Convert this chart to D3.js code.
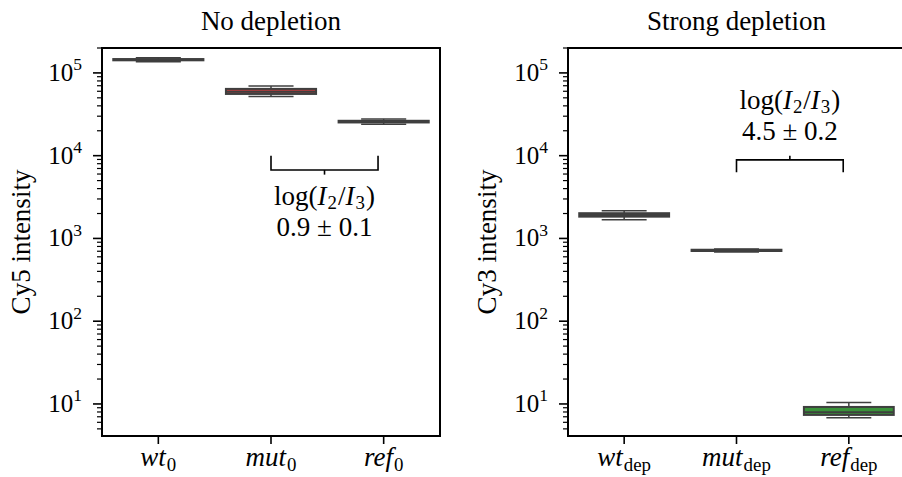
<!DOCTYPE html>
<html><head><meta charset="utf-8">
<script src="https://cdn.jsdelivr.net/npm/d3@7"></script>
<style>body{margin:0;background:#fff}</style></head>
<body>
<svg id="c" width="902" height="477" xmlns="http://www.w3.org/2000/svg"></svg>
<script>
// ---- data ----
const categories = ["wt", "mut", "ref"];
const leftSub = "0";
const rightSub = "dep";
const panelTitles = ["No depletion", "Strong depletion"];
const yLabels = ["Cy5 intensity", "Cy3 intensity"];
// [whisker low, q1, median, q3, whisker high]
const leftStats = [
  [1.36e5, 1.42e5, 1.44e5, 1.47e5, 1.52e5],
  [5.18e4, 5.57e4, 5.94e4, 6.41e4, 6.96e4],
  [2.39e4, 2.52e4, 2.58e4, 2.64e4, 2.78e4]
];
const rightStats = [
  [1686, 1833, 1923, 2018, 2167],
  [687, 705, 719, 730, 747],
  [6.83, 7.37, 7.94, 9.2, 10.4]
];
const boxColors = ["#3274a1", "#c03d3e", "#3a923a"];
const yTicks = [1e1, 1e2, 1e3, 1e4, 1e5];
const yDomain = [4.1, 2.0e5];
const annotations = [
  {from: 1, to: 1.95, level: 6.7e3, ends: 1.0e4, stub: 5.9e3, ratio: "0.9", err: "0.1", textBelow: true},
  {from: 1, to: 1.95, level: 8.9e3, ends: 6.3e3, stub: 1.0e4, ratio: "4.5", err: "0.2", textBelow: false}
];

// ---- layout ----
const FONT = "'Liberation Serif', 'DejaVu Serif', serif";
const FS = 25;      // tick labels
const FL = 27;      // labels, titles, annotations
const svg = d3.select("#c");
const panels = [
  {x0: 102, x1: 440, stats: leftStats, sub: leftSub, title: panelTitles[0], ylab: yLabels[0], ann: annotations[0], ylabX: 30},
  {x0: 568, x1: 905, stats: rightStats, sub: rightSub, title: panelTitles[1], ylab: yLabels[1], ann: annotations[1], ylabX: 496}
];
const yTop = 48, yBot = 436;
const strokeC = "#3f3f3f";

function mathText(sel, parts, size, subDy) {
  const sd = subDy === undefined ? 0.2 : subDy;
  parts.forEach(p => {
    const t = sel.append("tspan").text(p[0]);
    if (p[1] === "i") t.attr("font-style", "italic");
    if (p[1] === "sub") t.attr("font-size", size * 0.7).attr("dy", size * sd).attr("dx", 1);
    if (p[1] === "back") t.attr("dy", -size * sd).attr("dx", 1);
    if (p[1] === "sup") t.attr("font-size", size * 0.7).attr("dy", -size * 0.42);
  });
}

panels.forEach((P, pi) => {
  const x = d3.scaleBand().domain(categories).range([P.x0, P.x1]).paddingInner(0).paddingOuter(0);
  const y = d3.scaleLog().domain(yDomain).range([yBot, yTop]);
  const bw = x.bandwidth();
  const g = svg.append("g");

  // boxes
  P.stats.forEach((s, i) => {
    const cx = x(categories[i]) + bw / 2;
    const half = bw * 0.4;
    const cap = bw * 0.2;
    const bg = g.append("g").attr("stroke", strokeC).attr("stroke-width", 1.5).attr("fill", "none");
    bg.append("line").attr("x1", cx).attr("x2", cx).attr("y1", y(s[0])).attr("y2", y(s[1]));
    bg.append("line").attr("x1", cx).attr("x2", cx).attr("y1", y(s[3])).attr("y2", y(s[4]));
    bg.append("line").attr("x1", cx - cap).attr("x2", cx + cap).attr("y1", y(s[0])).attr("y2", y(s[0]));
    bg.append("line").attr("x1", cx - cap).attr("x2", cx + cap).attr("y1", y(s[4])).attr("y2", y(s[4]));
    bg.append("rect").attr("x", cx - half).attr("width", 2 * half)
      .attr("y", y(s[3])).attr("height", y(s[1]) - y(s[3]))
      .attr("fill", boxColors[i]).attr("stroke-width", 2);
    bg.append("line").attr("x1", cx - half).attr("x2", cx + half).attr("y1", y(s[2])).attr("y2", y(s[2])).attr("stroke-width", 2);
  });

  // axes frame
  g.append("rect").attr("x", P.x0).attr("y", yTop).attr("width", P.x1 - P.x0).attr("height", yBot - yTop)
    .attr("fill", "none").attr("stroke", "#000").attr("stroke-width", 2);

  // y major ticks
  yTicks.forEach(t => {
    const yy = y(t);
    g.append("line").attr("x1", P.x0 - 9).attr("x2", P.x0).attr("y1", yy).attr("y2", yy).attr("stroke", "#000").attr("stroke-width", 1.6);
    const tx = g.append("text").attr("x", P.x0 - 20).attr("y", yy + 8).attr("text-anchor", "end")
      .attr("font-family", FONT).attr("font-size", FS).attr("fill", "#000");
    mathText(tx, [["10", "r"], [String(Math.round(Math.log10(t))), "sup"]], FS);
  });
  // minor ticks
  for (let d = 0; d <= 5; d++) {
    for (let k = 2; k <= 9; k++) {
      const v = k * Math.pow(10, d);
      if (v < yDomain[0] || v > yDomain[1]) continue;
      const yy = y(v);
      g.append("line").attr("x1", P.x0 - 5).attr("x2", P.x0).attr("y1", yy).attr("y2", yy).attr("stroke", "#000").attr("stroke-width", 1.2);
    }
  }
  // x ticks
  categories.forEach(c => {
    const cx = x(c) + bw / 2;
    g.append("line").attr("x1", cx).attr("x2", cx).attr("y1", yBot).attr("y2", yBot + 8).attr("stroke", "#000").attr("stroke-width", 1.6);
    const tx = g.append("text").attr("x", cx).attr("y", 466).attr("text-anchor", "middle")
      .attr("font-family", FONT).attr("font-size", FL).attr("fill", "#000");
    mathText(tx, [[c, "i"], [P.sub, "sub"]], FL);
  });

  // title
  g.append("text").attr("x", (P.x0 + P.x1) / 2).attr("y", 30).attr("text-anchor", "middle")
    .attr("font-family", FONT).attr("font-size", FL).text(P.title);
  // y label
  g.append("text").attr("transform", `translate(${P.ylabX},${(yTop + yBot) / 2}) rotate(-90)`)
    .attr("text-anchor", "middle").attr("font-family", FONT).attr("font-size", FL).text(P.ylab);

  // annotation bracket
  const A = P.ann;
  const xa = x(categories[0]) + bw / 2 + A.from * bw;
  const xb = x(categories[0]) + bw / 2 + A.to * bw;
  const xm = (xa + xb) / 2;
  const ag = g.append("g").attr("stroke", "#000").attr("stroke-width", 1.6).attr("fill", "none");
  ag.append("path").attr("d", `M${xa},${y(A.ends)}V${y(A.level)}H${xb}V${y(A.ends)}`);
  ag.append("line").attr("x1", xm).attr("x2", xm).attr("y1", y(A.level)).attr("y2", y(A.stub));
  const y1 = A.textBelow ? y(A.level) + 35 : y(A.level) - 51;
  const t1 = g.append("text").attr("x", xm).attr("y", y1).attr("text-anchor", "middle")
    .attr("font-family", FONT).attr("font-size", FL);
  mathText(t1, [["log(", "r"], ["I", "i"], ["2", "sub"], ["/", "back"], ["I", "i"], ["3", "sub"], [")", "back"]], FL, 0.15);
  g.append("text").attr("x", xm).attr("y", y1 + 31).attr("text-anchor", "middle")
    .attr("font-family", FONT).attr("font-size", FL).text(`${A.ratio} \u00b1 ${A.err}`);
});
</script>
</body></html>
